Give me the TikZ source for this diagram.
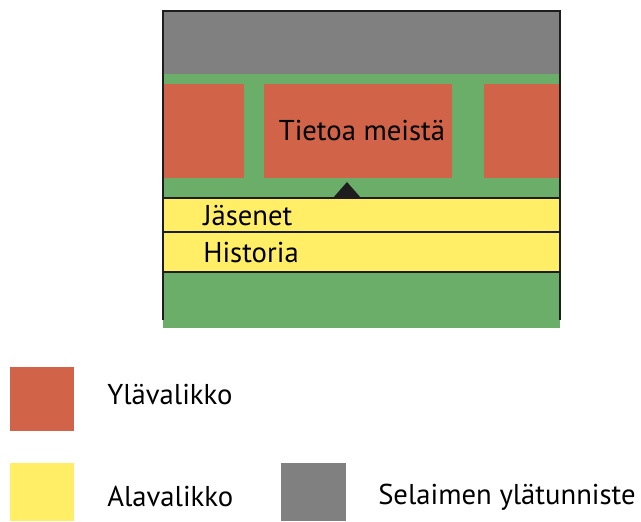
\documentclass[tikz,border=0pt]{standalone}
\usepackage{fontspec}
\setmainfont{PT Sans}
\definecolor{headgray}{HTML}{808080}
\definecolor{pagegreen}{HTML}{6AAE6A}
\definecolor{topmenu}{HTML}{D06348}
\definecolor{submenu}{HTML}{FFEE66}
\definecolor{edge}{HTML}{1E1E1E}
\tikzset{
  label text/.style={anchor=base west,inner sep=0pt,font=\fontsize{21.5}{25}\selectfont},
  frame line/.style={edge,line width=2pt},
}
\begin{document}
\begin{tikzpicture}[x=0.75pt,y=-0.75pt]
\useasboundingbox (0,0) rectangle (641,521);
%\draw[step=50,very thin,color=gray] (0,0) grid (641,521);
% page
\fill[pagegreen] (163,74) rectangle (560,328);
\fill[headgray] (163,11) rectangle (560,74);
% top menu
\fill[topmenu] (163,84) rectangle (244,178);
\fill[topmenu] (264,84) rectangle (452,178);
\fill[topmenu] (484,84) rectangle (560,178);
\node[label text,anchor=base] (about) at (362,140) {Tietoa meistä};
\fill[edge] (333,198) -- (347,182) -- (361,198) -- cycle;
% sub menu
\fill[submenu] (163,198) rectangle (560,272);
\draw[frame line] (163,198) -- (560,198);
\draw[frame line] (163,232) -- (560,232);
\draw[frame line] (163,272) -- (560,272);
\node[label text] (members) at (203,225) {Jäsenet};
\node[label text] (history) at (203,262) {Historia};
% frame
\draw[edge,line width=1.5pt] (163,320) -- (163,11) -- (560,11) -- (560,320);
% legend
\fill[topmenu] (10,367) rectangle (74,431);
\node[label text] (ylavalikko) at (107,404) {Ylävalikko};
\fill[submenu] (10,463) rectangle (74,521);
\node[label text] (alavalikko) at (107,506) {Alavalikko};
\fill[headgray] (281,463) rectangle (346,521);
\node[label text] (ylatunniste) at (378,504) {Selaimen ylätunniste};
\end{tikzpicture}
\end{document}
